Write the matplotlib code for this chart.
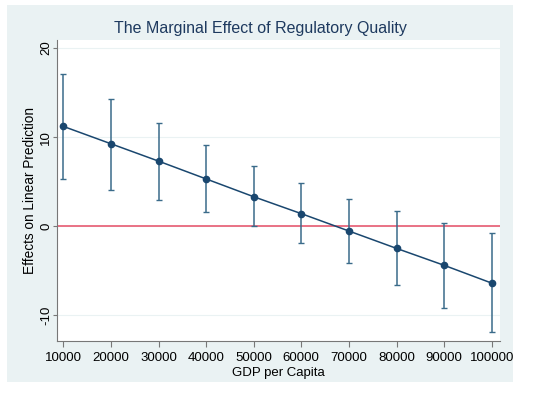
import matplotlib
matplotlib.use("Agg")
import matplotlib.pyplot as plt
from matplotlib.patches import Rectangle

plt.rcParams['font.family'] = ['Liberation Sans', 'DejaVu Sans']

gdp = [10000, 20000, 30000, 40000, 50000, 60000, 70000, 80000, 90000, 100000]
effect = [11.2, 9.25, 7.3, 5.3, 3.3, 1.4, -0.55, -2.5, -4.4, -6.4]
upper = [17.1, 14.3, 11.6, 9.1, 6.8, 4.8, 3.1, 1.7, 0.3, -0.8]
lower = [5.3, 4.1, 2.9, 1.6, 0.0, -1.9, -4.1, -6.6, -9.25, -11.9]
yticks = [-10, 0, 10, 20]

navy = "#1a476f"
fig = plt.figure(figsize=(5.5, 3.93), dpi=100)
fig.patches.append(Rectangle((7/550, 1-382/393), (513-7)/550, (382-5)/393,
                             transform=fig.transFigure, facecolor="#eaf2f3",
                             edgecolor="none", zorder=-1))
ax = fig.add_axes([57/550, 1-341/393, (500-57)/550, (341-40)/393])
ax.set_facecolor("white")

for y in yticks:
    ax.axhline(y, color="#eaf2f3", lw=0.8, zorder=1)
ax.axhline(0, color="#e8677c", lw=1.3, zorder=2)

yerr = [[e - l for e, l in zip(effect, lower)], [u - e for e, u in zip(effect, upper)]]
ax.errorbar(gdp, effect, yerr=yerr, fmt="none", ecolor="#3a6b8a", elinewidth=1.1,
            capsize=2.5, capthick=1.0, zorder=3)
ax.plot(gdp, effect, color=navy, lw=1.1, marker="o", ms=4.5, mfc=navy, mec=navy, zorder=4)

ax.set_xlim(8676, 101740)
ax.set_ylim(-12.9, 20.9)
ax.set_xticks(gdp)
ax.set_xticklabels([str(g) for g in gdp], fontsize=9.5)
ax.set_yticks(yticks)
ax.set_yticklabels([str(y) for y in yticks], fontsize=9.5, rotation=90, va="center")
for s in ["top", "right"]:
    ax.spines[s].set_visible(False)
for s in ["left", "bottom"]:
    ax.spines[s].set_color("#777777")
    ax.spines[s].set_linewidth(0.8)
ax.tick_params(axis="x", length=4, width=0.8, color="#777777", labelcolor="black", pad=4)
ax.tick_params(axis="y", length=3, width=0.8, color="#777777", labelcolor="black", pad=0.5)
ax.set_xlabel("GDP per Capita", fontsize=9.5, labelpad=2)
ax.set_ylabel("Effects on Linear Prediction", fontsize=9.8, labelpad=2)
fig.text(260/550, 1-29/393, "The Marginal Effect of Regulatory Quality", ha="center",
         va="center", fontsize=11.5, color="#1e3a5f")

fig.savefig("out.png", dpi=100)
